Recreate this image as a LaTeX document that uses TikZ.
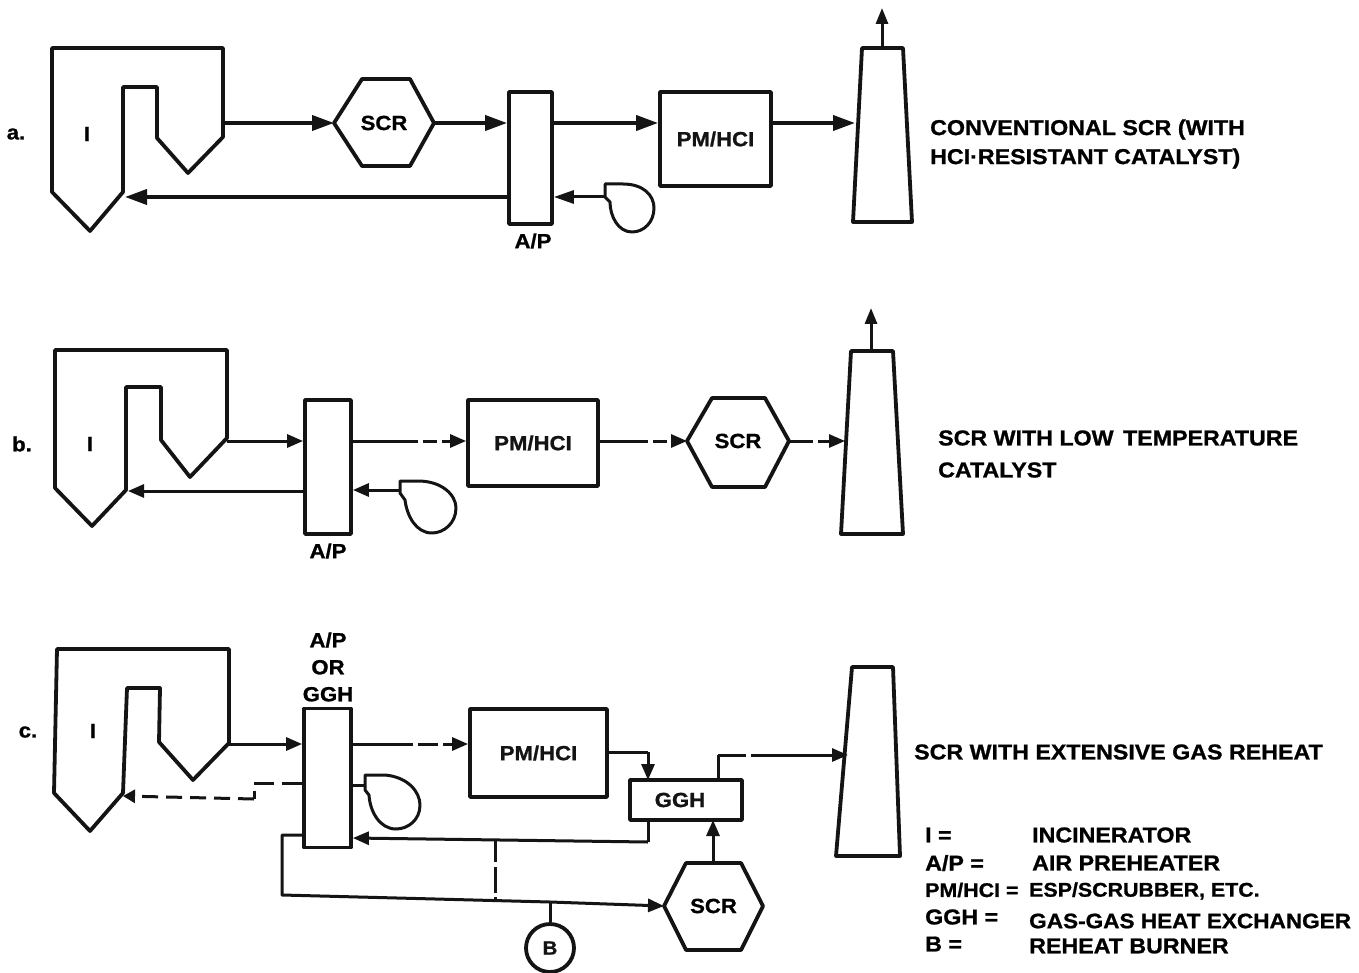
\documentclass[tikz,border=0pt]{standalone}
\usepackage{fontspec}
\setmainfont{Liberation Sans}[BoldFeatures={FakeBold=1.0,FakeStretch=1.08}]
\usetikzlibrary{arrows.meta}
\tikzset{
  ln/.style={line width=3.8pt,line join=round,black!92},
  thin ln/.style={line width=3pt,line join=round,black!92},
  unitbox/.style={draw,ln,fill=white,inner sep=0pt,font=\bfseries\fontsize{20.5}{22}\selectfont},
  flow/.style={ln,-{Triangle[length=22pt,width=15pt]}},
  smallflow/.style={thin ln,-{Triangle[length=16pt,width=13pt]}},
  plain/.style={thin ln},
  lab/.style={inner sep=0pt,font=\bfseries\fontsize{21.5}{29}\selectfont,align=left,anchor=west,black},
  smalllab/.style={inner sep=0pt,font=\bfseries\fontsize{20.5}{24}\selectfont,align=center,black},
  leg/.style={inner sep=0pt,font=\bfseries\fontsize{21.5}{24}\selectfont,anchor=west,black},
  legnarrow/.style={leg,font=\bfseries\fontsize{19.8}{24}\selectfont},
  legmid/.style={leg,font=\bfseries\fontsize{20.9}{24}\selectfont},
}
% hexagon: name, left x, inner left x, inner right x, right x, centre y, top y, bottom y
\newcommand{\hexunit}[8]{%
  \draw[ln] (#2,#6) -- (#3,#7) -- (#4,#7) -- (#5,#6) -- (#4,#8) -- (#3,#8) -- cycle;
  \coordinate (#1-w) at (#2,#6);
  \coordinate (#1-e) at (#5,#6);
  \coordinate (#1-n) at ({(#3+#4)/2},#7);
  \node[smalllab] (#1) at ({(#2+#5)/2},#6) {SCR};
}
\begin{document}
\begin{tikzpicture}[x=1pt,y=-1pt]
\useasboundingbox (0,0) rectangle (1359,973);
\fill[white] (0,0) rectangle (1359,973);

% ---------- a ----------
\node[smalllab] (la) at (16,134) {a.};
\draw[ln] (52,48) -- (223,48) -- (223,137) -- (188,173) -- (157,138) -- (157,87) -- (123,87) -- (123,192) -- (90,231) -- (52,192) -- cycle;
\coordinate (fa-out) at (223,123);
\coordinate (fa-in) at (125,197);
\node[smalllab] (ia) at (87,134) {I};
\hexunit{sa}{334}{362}{410}{434}{123}{79}{166}
\node[unitbox,minimum width=43pt,minimum height=132pt] (apa) at (530.5,158) {};
\node[unitbox,minimum width=111pt,minimum height=94pt] (pma) at (715.5,139) {PM/HCI};
\draw[ln] (853,222) -- (912,222) -- (903,48) -- (862,48) -- cycle;
\coordinate (sta-w) at (855,123);
\coordinate (sta-t) at (882,48);
\coordinate (sta-a) at (882,8);
\node[smalllab] (lapa) at (533,241) {A/P};
\draw[thin ln] (605,184) -- (623,184) .. controls (643,184) and (654,195) .. (654,208) .. controls (654,222) and (644,232) .. (632,232) .. controls (618,232) and (610,216) .. (610,202) -- (605,197) -- cycle;
\coordinate (fana) at (605,197);
\draw[flow] (fa-out) -- (sa-w);
\draw[flow] (sa-e) -- (apa.west |- sa-e);
\draw[flow] (apa.east |- sa-e) -- (pma.west |- sa-e);
\draw[flow] (pma.east |- sa-e) -- (sta-w);
\draw[thin ln,-{Triangle[length=16pt,width=12pt]}] (sta-t) -- (sta-a);
\draw[flow] (apa.west |- fa-in) -- (fa-in);
\draw[thin ln,-{Triangle[length=20pt,width=13pt]}] (fana) -- (apa.east |- fana);
\node[lab] (ta) at (930,144) {CONVENTIONAL SCR (WITH\\HCI·RESISTANT CATALYST)};

% ---------- b ----------
\node[smalllab] (lb) at (22,444) {b.};
\draw[ln] (55,350) -- (227,350) -- (227,438) -- (190,477) -- (161,440) -- (161,387) -- (126,387) -- (126,490) -- (92,526) -- (55,488) -- cycle;
\coordinate (fb-out) at (227,441);
\coordinate (fb-in) at (128,491);
\node[smalllab] (ib) at (90,444) {I};
\node[unitbox,minimum width=46pt,minimum height=134pt] (apb) at (328,467) {};
\node[unitbox,minimum width=130pt,minimum height=86pt] (pmb) at (533,443) {PM/HCI};
\hexunit{sb}{687}{712}{765}{789}{441}{398}{487}
\draw[ln] (841,534) -- (903,534) -- (893,351) -- (851,351) -- cycle;
\coordinate (stb-w) at (845,441);
\coordinate (stb-t) at (871,351);
\coordinate (stb-a) at (871,308);
\node[smalllab] (lapb) at (328,551) {A/P};
\draw[thin ln] (400,481) -- (418,481) .. controls (442,481) and (456,495) .. (456,508) .. controls (456,523) and (444,533) .. (432,533) .. controls (416,533) and (407,516) .. (405,500) -- (400,493) -- cycle;
\coordinate (fanb) at (400,490);
\draw[smallflow] (fb-out) -- (apb.west |- fb-out);
\draw[smallflow,dash pattern=on 65pt off 5pt on 14pt off 5pt on 200pt] (apb.east |- fb-out) -- (pmb.west |- fb-out);
\draw[smallflow,dash pattern=on 48pt off 5pt on 14pt off 5pt on 200pt] (pmb.east |- fb-out) -- (sb-w);
\draw[smallflow,dash pattern=on 24pt off 5pt on 200pt] (sb-e) -- (stb-w);
\draw[thin ln,-{Triangle[length=16pt,width=12pt]}] (stb-t) -- (stb-a);
\draw[smallflow] (apb.west |- fb-in) -- (fb-in);
\draw[smallflow] (fanb) -- (apb.east |- fanb);
\node[lab] (tb) at (938,454) {SCR WITH LOW\hspace{3pt} TEMPERATURE\\[3pt]CATALYST};

% ---------- c ----------
\node[smalllab] (lc) at (28,732) {c.};
\draw[ln] (57,649) -- (229,649) -- (229,743) -- (193,780) -- (159,742) -- (160,688) -- (127,688) -- (123,793) -- (90,831) -- (54,793) -- cycle;
\coordinate (fc-out) at (229,744);
\coordinate (fc-in) at (123,796);
\node[smalllab] (ic) at (93,731) {I};
\node[unitbox,minimum width=47pt,minimum height=139pt] (apc) at (327.5,778) {};
\node[unitbox,minimum width=137pt,minimum height=88pt] (pmc) at (538.5,753) {PM/HCI};
\node[unitbox,minimum width=112pt,minimum height=40pt] (ggh) at (686,800) {\mbox{GGH\kern12pt}};
\hexunit{sc}{664}{686}{741}{763}{906}{863}{950}
\draw[ln] (836,856) -- (900,856) -- (893,667) -- (852,667) -- cycle;
\coordinate (stc-w) at (848,755);
\coordinate (stc-t) at (873,667);
\coordinate (stc-a) at (873,620);
\node[smalllab,font=\bfseries\fontsize{20.5}{27}\selectfont] (lapc) at (328,667) {A/P\\OR\\GGH};
\draw[thin ln] (365,775) -- (385,775) .. controls (408,777) and (420,792) .. (420,805) .. controls (420,820) and (408,829) .. (396,829) .. controls (380,829) and (370,812) .. (369,795) -- (365,790) -- cycle;
\node[draw,ln,circle,minimum size=48pt,inner sep=0pt,font=\bfseries\fontsize{19}{20}\selectfont] (b) at (550,948) {B};
\coordinate (j1) at (495,840);
\coordinate (j2) at (495,899);
\coordinate (j3) at (550,902);
\coordinate (p1) at (282,835);
\coordinate (p2) at (282,895);
\coordinate (g1) at (648,752);
\coordinate (g2) at (648,780);
\coordinate (g3) at (648,820);
\coordinate (g4) at (648,842);
\coordinate (g5) at (718,780);
\coordinate (g6) at (718,755);
\coordinate (g7) at (713,820);
\coordinate (r1) at (254,783);
\coordinate (r2) at (254,799);
\coordinate (d1) at (364,785);
\draw[smallflow] (fc-out) -- (apc.west |- fc-out);
\draw[smallflow,dash pattern=on 60pt off 5pt on 20pt off 5pt on 200pt] (apc.east |- fc-out) -- (pmc.west |- fc-out);
\draw[plain] (pmc.east |- g1) -- (g1);
\draw[smallflow] (g1) -- (g2);
\draw[plain] (g3) -- (g4);
\draw[smallflow] (g4) -- (apc.east |- 0,838);
\draw[smallflow] (sc-n -| g7) -- (g7);
\draw[plain] (g5) -- (g6);
\draw[smallflow,dash pattern=on 28pt off 5pt on 200pt] (g6) -- (stc-w);
\draw[plain] (apc.west |- p1) -- (p1) -- (p2) -- (j3);
\draw[smallflow] (j3) -- (sc-w);
\draw[thin ln,dash pattern=on 22pt off 5pt on 26pt off 4pt] (j1) -- (j2);
\draw[plain] (j3) -- (b);
\draw[thin ln,dash pattern=on 20pt off 8pt] (apc.west |- r1) -- (r1) -- (r2);
\draw[thin ln,dash pattern=on 16pt off 8pt,-{Triangle[length=12pt,width=13pt]}] (r2) -- (fc-in);
\draw[plain] (apc.east |- d1) -- (d1);
\node[lab] (tc) at (914,752) {SCR WITH EXTENSIVE GAS REHEAT};

% ---------- legend ----------
\node[leg] (k1) at (925,835) {I =};
\node[leg] (v1) at (1032,835) {INCINERATOR};
\node[leg] (k2) at (925,863) {A/P =};
\node[leg] (v2) at (1032,863) {AIR PREHEATER};
\node[legnarrow] (k3) at (925,890) {PM/HCI =};
\node[legnarrow] (v3) at (1029,891) {ESP/SCRUBBER, ETC.};
\node[leg] (k4) at (925,917) {GGH =};
\node[legmid] (v4) at (1029,921) {GAS-GAS HEAT EXCHANGER};
\node[leg] (k5) at (925,944) {B =};
\node[leg] (v5) at (1029,946) {REHEAT BURNER};
\end{tikzpicture}
\end{document}
